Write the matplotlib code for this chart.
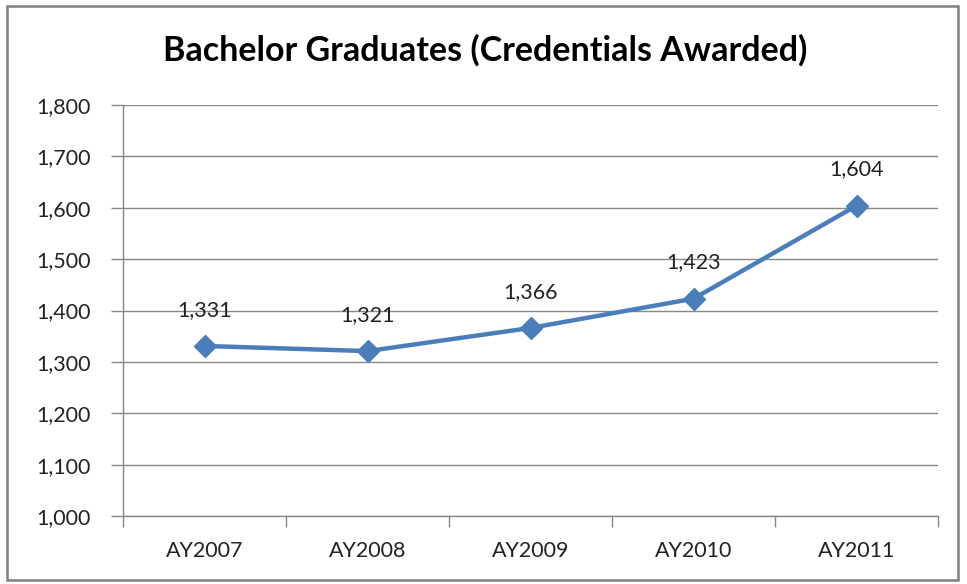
import matplotlib
matplotlib.use("Agg")
import matplotlib.pyplot as plt
from matplotlib.patches import Rectangle
import numpy as np

categories = ["AY2007", "AY2008", "AY2009", "AY2010", "AY2011"]
values = [1331, 1321, 1366, 1423, 1604]
y_ticks = [1000, 1100, 1200, 1300, 1400, 1500, 1600, 1700, 1800]

plt.rcParams['font.family'] = ['Lato', 'DejaVu Sans']

fig = plt.figure(figsize=(9.67, 5.84), dpi=100)
fig.patch.set_facecolor('white')
ax = fig.add_axes([123/967, 1-516/584, (938-123)/967, (516-105)/584])

grid_c = '#878787'
line_c = '#4A7EBB'
fs = 15.5
x = np.arange(len(categories))
ax.plot(x, values, color=line_c, lw=3.2, marker='D', markersize=11.5,
        markerfacecolor=line_c, markeredgecolor=line_c, zorder=3, clip_on=False)
for xi, v in zip(x, values):
    ax.annotate(f"{v:,}", (xi, v), xytext=(0, 26), textcoords='offset points',
                ha='center', va='center', fontsize=fs, color='#222222')

ax.set_xlim(-0.5, len(categories) - 0.5)
ax.set_ylim(1000, 1800)
ax.set_yticks(y_ticks)
ax.set_yticklabels([f"{t:,}" for t in y_ticks])
ax.yaxis.grid(True, color=grid_c, lw=1.0)
ax.set_axisbelow(True)

ax.set_xticks(np.arange(-0.5, len(categories)))
ax.set_xticklabels([])
ax.set_xticks(x, minor=True)
ax.set_xticklabels(categories, minor=True)
ax.tick_params(axis='x', which='major', length=8, color=grid_c, width=1.0)
ax.tick_params(axis='x', which='minor', length=0, pad=18, labelsize=fs, labelcolor='#222222')
ax.tick_params(axis='y', length=9, color=grid_c, width=1.0, labelsize=fs,
               labelcolor='#222222', pad=14)

for s in ['top', 'right']:
    ax.spines[s].set_visible(False)
for s in ['left', 'bottom']:
    ax.spines[s].set_color(grid_c)
    ax.spines[s].set_linewidth(1.0)

fig.text(485/967, 1-50/584, "Bachelor Graduates (Credentials Awarded)",
         ha='center', va='center', fontsize=24.5, fontweight='bold', color='black')

border = Rectangle((7/967, 4/584), (958-7)/967, (578-4)/584, transform=fig.transFigure,
                   fill=False, edgecolor='#7f7f7f', lw=1.8)
fig.patches.append(border)

fig.savefig('out.png', dpi=100, facecolor='white')
